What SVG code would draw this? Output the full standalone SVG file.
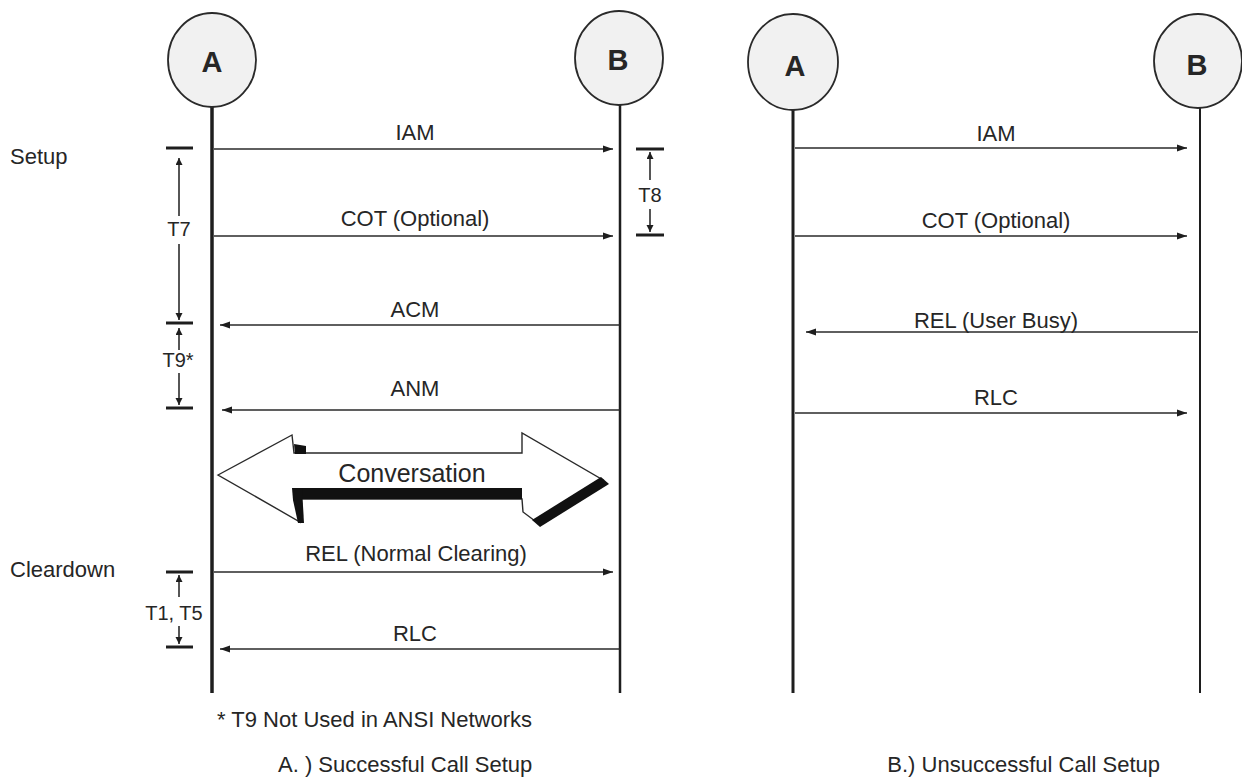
<svg xmlns="http://www.w3.org/2000/svg" width="1242" height="777" viewBox="0 0 1242 777">
<style>
text{font-family:"Liberation Sans",Arial,sans-serif;fill:#262626;}
.lbl{font-size:22px;text-anchor:middle;}
.side{font-size:22px;}
.tl{font-size:20px;text-anchor:middle;}
.node{fill:#f1f1f1;stroke:#2a2a2a;stroke-width:1.8;}
.letter{font-size:29px;font-weight:bold;text-anchor:middle;}
.life{stroke:#1e1e1e;fill:none;}
.msg{stroke:#2a2a2a;stroke-width:1.6;fill:none;}
.bar{stroke:#1e1e1e;stroke-width:3;}
.tv{stroke:#1e1e1e;stroke-width:1.5;}
</style>
<defs>
<marker id="ah" markerUnits="userSpaceOnUse" markerWidth="11" markerHeight="8" refX="10" refY="4" orient="auto">
<path d="M0,0.5 L10,4 L0,7.5 Z" fill="#1e1e1e"/>
</marker>
<marker id="th" markerUnits="userSpaceOnUse" markerWidth="8" markerHeight="9" refX="7" refY="3.5" orient="auto">
<path d="M0,0 L7,3.5 L0,7 Z" fill="#1e1e1e"/>
</marker>
</defs>
<rect width="1242" height="777" fill="#ffffff"/>

<g id="nodeA1">
<line class="life" x1="212" y1="107" x2="212" y2="693" stroke-width="3.5"/>
<ellipse class="node" cx="212" cy="60" rx="44" ry="47"/>
<text class="letter" x="212" y="72">A</text>
</g>
<g id="nodeB1">
<line class="life" x1="620" y1="105" x2="620" y2="693" stroke-width="2.5"/>
<ellipse class="node" cx="619" cy="58" rx="44" ry="47"/>
<text class="letter" x="618" y="70">B</text>
</g>
<g id="nodeA2">
<line class="life" x1="793" y1="110" x2="793" y2="693" stroke-width="3"/>
<ellipse class="node" cx="793" cy="62" rx="45" ry="48"/>
<text class="letter" x="795" y="76">A</text>
</g>
<g id="nodeB2">
<line class="life" x1="1200" y1="108" x2="1200" y2="693" stroke-width="2"/>
<ellipse class="node" cx="1198" cy="61" rx="44" ry="47"/>
<text class="letter" x="1197" y="75">B</text>
</g>

<g id="connectors">
<line class="msg" x1="214" y1="149" x2="613" y2="149" marker-end="url(#ah)"/>
<line class="msg" x1="214" y1="236" x2="613" y2="236" marker-end="url(#ah)"/>
<line class="msg" x1="620" y1="325" x2="220" y2="325" stroke-width="2.2" marker-end="url(#ah)"/>
<line class="msg" x1="620" y1="410" x2="222" y2="410" stroke="#555" stroke-width="1.3" marker-end="url(#ah)"/>
<line class="msg" x1="214" y1="572" x2="613" y2="572" stroke="#666" stroke-width="2.4" marker-end="url(#ah)"/>
<line class="msg" x1="620" y1="649" x2="220" y2="649" stroke-width="2.2" marker-end="url(#ah)"/>
<line class="msg" x1="795" y1="148" x2="1187" y2="148" marker-end="url(#ah)"/>
<line class="msg" x1="795" y1="236" x2="1187" y2="236" marker-end="url(#ah)"/>
<line class="msg" x1="1198" y1="332" x2="806" y2="332" stroke="#777" stroke-width="2.4" marker-end="url(#ah)"/>
<line class="msg" x1="795" y1="413" x2="1187" y2="413" marker-end="url(#ah)"/>
</g>

<g id="labels">
<text class="lbl" x="415" y="140">IAM</text>
<text class="lbl" x="415" y="226">COT (Optional)</text>
<text class="lbl" x="415" y="317">ACM</text>
<text class="lbl" x="415" y="396">ANM</text>
<text class="lbl" x="416" y="561">REL (Normal Clearing)</text>
<text class="lbl" x="415" y="641">RLC</text>
<text class="lbl" x="996" y="141">IAM</text>
<text class="lbl" x="996" y="228">COT (Optional)</text>
<text class="lbl" x="996" y="328">REL (User Busy)</text>
<text class="lbl" x="996" y="405">RLC</text>
<text class="side" x="10" y="164">Setup</text>
<text class="side" x="10" y="577">Cleardown</text>
</g>

<g id="conversation">
<polygon points="218,475 292,435 294,453 522,453 522,433 603,480 535,521 523,512 522,499 294,499 300,522" fill="#ffffff" stroke="#2a2a2a" stroke-width="1.4"/>
<rect x="293" y="488" width="229" height="11" fill="#111"/>
<polygon points="292,488 302,488 304,523 298,523 293,500" fill="#111"/>
<polygon points="294,444 306,446 306,454 295,454" fill="#111"/>
<polygon points="601,477 609,484 540,527 532,520" fill="#111"/>
<text x="412" y="482" font-size="25" text-anchor="middle">Conversation</text>
</g>

<g id="timerT7">
<line class="bar" x1="166" y1="148" x2="193" y2="148"/>
<line class="tv" x1="179" y1="216" x2="179" y2="158" marker-end="url(#th)"/>
<text class="tl" x="179" y="236">T7</text>
<line class="tv" x1="179" y1="244" x2="179" y2="320" marker-end="url(#th)"/>
<line class="bar" x1="166" y1="323" x2="193" y2="323"/>
</g>
<g id="timerT9">
<line class="tv" x1="179" y1="350" x2="179" y2="328" marker-end="url(#th)"/>
<text class="tl" x="178" y="367">T9*</text>
<line class="tv" x1="179" y1="373" x2="179" y2="405" marker-end="url(#th)"/>
<line class="bar" x1="166" y1="408" x2="193" y2="408"/>
</g>
<g id="timerT8">
<line class="bar" x1="636" y1="149" x2="664" y2="149"/>
<line class="tv" x1="650" y1="180" x2="650" y2="152" marker-end="url(#th)"/>
<text class="tl" x="650" y="202">T8</text>
<line class="tv" x1="650" y1="209" x2="650" y2="232" marker-end="url(#th)"/>
<line class="bar" x1="636" y1="235" x2="664" y2="235"/>
</g>
<g id="timerT1T5">
<line class="bar" x1="166" y1="572" x2="193" y2="572"/>
<line class="tv" x1="179" y1="597" x2="179" y2="575" marker-end="url(#th)"/>
<text class="tl" x="174" y="620">T1, T5</text>
<line class="tv" x1="179" y1="626" x2="179" y2="644" marker-end="url(#th)"/>
<line class="bar" x1="166" y1="647" x2="193" y2="647"/>
</g>

<g id="notes">
<text x="217" y="727" font-size="22">* T9 Not Used in ANSI Networks</text>
<text x="278" y="772" font-size="22">A. ) Successful Call Setup</text>
<text x="1160" y="772" font-size="22" text-anchor="end">B.) Unsuccessful Call Setup</text>
</g>
</svg>
